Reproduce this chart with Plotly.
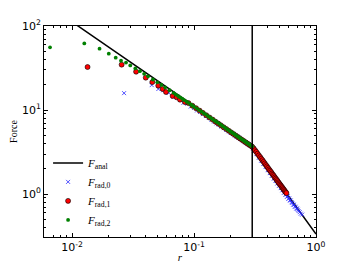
import plotly.graph_objects as go

# Analytic force: 1/r inside r=0.3, 1/r^2 outside
r_anal = [0.005, 0.3, 1.0]
F_anal = [224.0, 3.73, 0.336]
r_edge = 0.3

# F_rad,0 (blue crosses)
r_rad0 = [0.0267, 0.045, 0.051, 0.056, 0.062, 0.068, 0.073, 0.078, 0.082, 0.088, 0.094, 0.10,
          0.106, 0.112, 0.118, 0.125, 0.132, 0.139, 0.146, 0.153, 0.16, 0.168, 0.176, 0.184,
          0.192, 0.20, 0.208, 0.216, 0.224, 0.232, 0.24, 0.248, 0.256, 0.264, 0.272, 0.28,
          0.288, 0.296, 0.305, 0.31, 0.318, 0.325, 0.332, 0.34, 0.347, 0.355, 0.362, 0.37,
          0.378, 0.386, 0.394, 0.402, 0.41, 0.418, 0.426, 0.434, 0.442, 0.45, 0.458, 0.466,
          0.474, 0.482, 0.49, 0.498, 0.506, 0.514, 0.522, 0.53, 0.538, 0.546, 0.554, 0.562,
          0.57, 0.578, 0.586, 0.594, 0.602, 0.61, 0.62, 0.63, 0.64, 0.65, 0.66, 0.67, 0.68,
          0.69, 0.70, 0.71, 0.72, 0.735, 0.75, 0.77]
F_rad0 = [15.9, 19.8, 17.8, 17.2, 16.0, 14.4, 14.0, 13.2, 12.2, 11.9, 11.0, 10.6,
          9.9, 9.5, 8.95, 8.5, 8.05, 7.7, 7.3, 6.95, 6.7, 6.35, 6.1, 5.8,
          5.6, 5.35, 5.2, 5.0, 4.83, 4.68, 4.52, 4.4, 4.27, 4.15, 4.04, 3.93,
          3.83, 3.74, 3.50, 3.28, 3.26, 3.00, 2.98, 2.72, 2.72, 2.50, 2.49, 2.30,
          2.29, 2.10, 2.10, 1.93, 1.93, 1.78, 1.79, 1.65, 1.66, 1.54, 1.54, 1.44,
          1.44, 1.34, 1.35, 1.26, 1.27, 1.18, 1.19, 1.11, 1.12, 1.04, 1.05, 0.985,
          0.99, 0.93, 0.94, 0.88, 0.89, 0.845, 0.84, 0.80, 0.785, 0.75, 0.745, 0.71, 0.705,
          0.675, 0.67, 0.65, 0.63, 0.61, 0.585, 0.57]

# F_rad,1 (red circles)
r_rad1 = [0.0134, 0.0255, 0.0335, 0.0402, 0.0455, 0.0509, 0.0553, 0.0589, 0.0668, 0.0720,
          0.0767, 0.0843, 0.090, 0.097, 0.104, 0.111, 0.118, 0.126, 0.134, 0.142, 0.150,
          0.158, 0.166, 0.175, 0.184, 0.193, 0.202, 0.211, 0.220, 0.229, 0.238, 0.247,
          0.256, 0.265, 0.274, 0.283, 0.292, 0.30, 0.308, 0.316, 0.324, 0.332, 0.340,
          0.348, 0.356, 0.364, 0.372, 0.380, 0.388, 0.396, 0.404, 0.412, 0.420, 0.428,
          0.436, 0.444, 0.452, 0.460, 0.468, 0.476, 0.484, 0.492, 0.50, 0.508, 0.516,
          0.524, 0.532, 0.540, 0.548, 0.556, 0.564, 0.572]
F_rad1 = [32.5, 34.7, 28.6, 24.3, 21.5, 19.5, 17.8, 16.4, 14.7, 14.2,
          13.3, 12.45, 12.1, 11.25, 10.5, 9.85, 9.26, 8.67, 8.15, 7.7, 7.28,
          6.91, 6.58, 6.24, 5.94, 5.66, 5.41, 5.18, 4.97, 4.77, 4.6, 4.43,
          4.28, 4.13, 4.0, 3.87, 3.76, 3.66, 3.50, 3.33, 3.18, 3.03, 2.89,
          2.76, 2.64, 2.53, 2.42, 2.32, 2.22, 2.14, 2.05, 1.97, 1.90, 1.83,
          1.76, 1.70, 1.64, 1.58, 1.53, 1.48, 1.43, 1.38, 1.34, 1.30, 1.26,
          1.22, 1.185, 1.15, 1.12, 1.085, 1.055, 1.03]

# F_rad,2 (green dots)
r_rad2 = [0.0066, 0.0126, 0.0168, 0.020, 0.0228, 0.0252, 0.0277, 0.030, 0.033, 0.036, 0.039,
          0.042, 0.046, 0.050, 0.054, 0.058, 0.063, 0.068, 0.071, 0.074, 0.077, 0.080, 0.083,
          0.087, 0.090, 0.094, 0.097, 0.10, 0.105, 0.11, 0.115, 0.12, 0.125, 0.13, 0.135,
          0.14, 0.145, 0.15, 0.155, 0.16, 0.165, 0.17, 0.175, 0.18, 0.185, 0.19, 0.195,
          0.20, 0.205, 0.21, 0.215, 0.22, 0.225, 0.23, 0.235, 0.24, 0.245, 0.25, 0.255,
          0.26, 0.265, 0.27, 0.275, 0.28, 0.285, 0.29, 0.295, 0.30]
F_rad2 = [55.7, 62.0, 53.8, 46.9, 42.0, 38.7, 36.7, 34.0, 31.3, 29.0, 27.0,
          25.2, 23.1, 21.4, 19.9, 18.6, 17.2, 16.0, 15.3, 14.7, 14.15, 13.65, 13.15,
          12.6, 12.15, 11.65, 11.3, 10.95, 10.5, 10.0, 9.6, 9.18, 8.83, 8.48, 8.18,
          7.88, 7.61, 7.36, 7.13, 6.9, 6.7, 6.5, 6.31, 6.14, 5.97, 5.82, 5.66,
          5.53, 5.39, 5.27, 5.14, 5.03, 4.91, 4.81, 4.7, 4.61, 4.51, 4.43, 4.34,
          4.26, 4.18, 4.10, 4.02, 3.96, 3.89, 3.82, 3.76, 3.70]

x_tickvals = [0.01, 0.1, 1.0]
x_ticktext = ["10<sup>-2</sup>", "10<sup>-1</sup>", "10<sup>0</sup>"]
y_tickvals = [1.0, 10.0, 100.0]
y_ticktext = ["10<sup>0</sup>", "10<sup>1</sup>", "10<sup>2</sup>"]

SERIF = "Liberation Serif"
SANS = "DejaVu Sans"

fig = go.Figure()
fig.add_trace(go.Scatter(x=r_anal, y=F_anal, mode="lines",
                         line=dict(color="black", width=1.5),
                         name="<i>F</i><sub>anal</sub>"))
fig.add_trace(go.Scatter(x=r_rad0, y=F_rad0, mode="markers",
                         marker=dict(symbol="x-thin", size=4, line=dict(color="#2a2aff", width=0.8)),
                         name="<i>F</i><sub>rad,0</sub>"))
fig.add_trace(go.Scatter(x=r_rad1, y=F_rad1, mode="markers",
                         marker=dict(symbol="circle", size=5, color="#ff0000",
                                     line=dict(color="black", width=0.6)),
                         name="<i>F</i><sub>rad,1</sub>"))
fig.add_trace(go.Scatter(x=r_rad2, y=F_rad2, mode="markers",
                         marker=dict(symbol="circle", size=3.8, color="#008000",
                                     line=dict(width=0)),
                         name="<i>F</i><sub>rad,2</sub>"))

fig.add_shape(type="line", xref="x", yref="paper", x0=r_edge, x1=r_edge, y0=0, y1=1,
              line=dict(color="black", width=1.5))

axis_common = dict(type="log", showgrid=False, zeroline=False, showline=True,
                   linecolor="black", linewidth=1, mirror="allticks", automargin=False,
                   ticks="inside", ticklen=4, tickcolor="black", tickwidth=1,
                   tickfont=dict(family=SANS, size=11, color="black"),
                   minor=dict(ticks="inside", ticklen=2, tickcolor="black", dtick="D1",
                              showgrid=False))

fig.update_xaxes(**axis_common, range=[-2.23, 0], tickvals=x_tickvals, ticktext=x_ticktext,
                 title=dict(text="<i>r</i>", font=dict(family=SERIF, size=11, color="black"),
                            standoff=0))
fig.update_yaxes(**axis_common, range=[-0.51, 2], tickvals=y_tickvals, ticktext=y_ticktext,
                 title=dict(text="Force", font=dict(family=SERIF, size=10, color="black"),
                            standoff=12))

# page body adds an 8px offset, so the figure is 8px smaller and margins shifted
fig.update_layout(width=344, height=256,
                  margin=dict(l=36, r=36, t=18, b=27),
                  paper_bgcolor="white", plot_bgcolor="white",
                  showlegend=True,
                  legend=dict(x=0.015, y=0.42, xanchor="left", yanchor="top",
                              bgcolor="rgba(0,0,0,0)", borderwidth=0,
                              font=dict(family=SERIF, size=11, color="black"),
                              itemwidth=30, tracegroupgap=0))

fig.write_html("out.html")
